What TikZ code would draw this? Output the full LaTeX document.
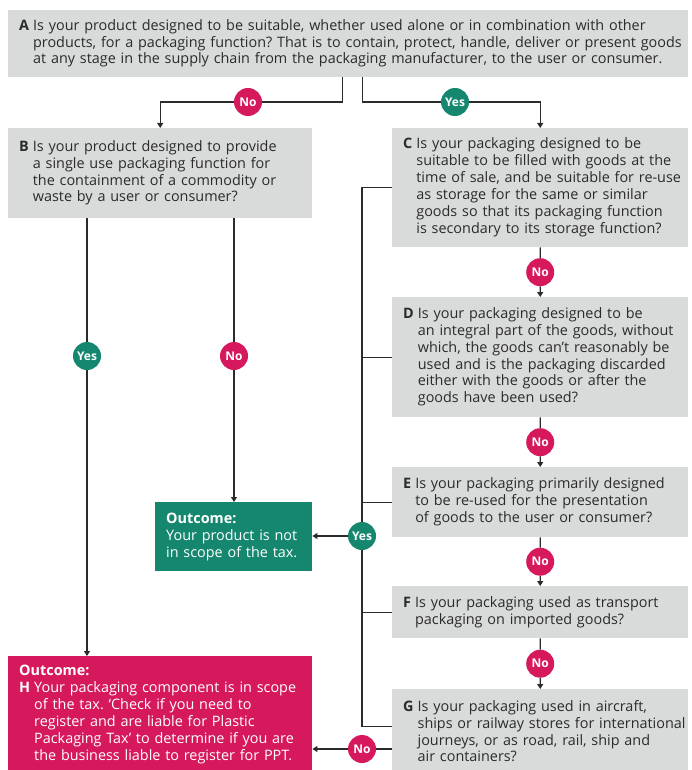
\documentclass[tikz,border=0pt]{standalone}
\usepackage{fontspec}
\setmainfont{Open Sans}
\frenchspacing
\usetikzlibrary{arrows.meta,calc}
\definecolor{boxgrey}{HTML}{D9DADA}
\definecolor{nored}{HTML}{D6195D}
\definecolor{yesgreen}{HTML}{15876F}
\definecolor{inkgrey}{HTML}{2B2B2B}
\tikzstyle{question}=[fill=boxgrey, anchor=north west, inner xsep=11pt,
                      inner ysep=0pt, align=left, text=inkgrey,
                      font=\fontsize{14.4}{16.9}\selectfont]
\tikzstyle{outcome}=[question, text=white]
\tikzstyle{badge}=[circle, minimum size=28pt, inner sep=0pt, text=white,
                   font=\fontsize{12}{13}\selectfont\bfseries]
\tikzstyle{nobadge}=[badge, fill=nored]
\tikzstyle{yesbadge}=[badge, fill=yesgreen]
\tikzstyle{edge}=[draw=inkgrey, line width=1.1pt]
\tikzstyle{arrow}=[edge, -{Triangle[length=5pt,width=6pt]}]
\newcommand{\qtext}[2]{\textbf{#1}\hspace{4pt}\begin{tabular}[t]{@{}l@{}}#2\end{tabular}}

\begin{document}
\begin{tikzpicture}[x=1pt, y=-1pt]
  \useasboundingbox (0,0) rectangle (692,770);
  \clip (0,0) rectangle (692,770);

  \node (A) at (8,10) [question, text width=658pt, minimum height=67pt]
    {\qtext{A}{Is your product designed to be suitable, whether used alone or in combination with other\\
     products, for a packaging function? That is to contain, protect, handle, deliver or present goods\\
     at any stage in the supply chain from the packaging manufacturer, to the user or consumer.}};
  \node (B) at (8,128) [question, text width=282pt, minimum height=90pt]
    {\qtext{B}{Is your product designed to provide\\a single use packaging function for\\
     the containment of a commodity or\\waste by a user or consumer?}};
  \node (C) at (392,128) [question, text width=274pt, minimum height=119pt]
    {\qtext{C}{Is your packaging designed to be\\suitable to be filled with goods at the\\
     time of sale, and be suitable for re-use\\as storage for the same or similar\\
     goods so that its packaging function\\is secondary to its storage function?}};
  \node (D) at (392,297) [question, text width=274pt, minimum height=120pt]
    {\qtext{D}{Is your packaging designed to be\\an integral part of the goods, without\\
     which, the goods can't reasonably be\\used and is the packaging discarded\\
     either with the goods or after the\\goods have been used?}};
  \node (E) at (392,467) [question, text width=274pt, minimum height=70pt]
    {\qtext{E}{Is your packaging primarily designed\\to be re-used for the presentation\\
     of goods to the user or consumer?}};
  \node (F) at (392,586) [question, text width=274pt, minimum height=52pt]
    {\qtext{F}{Is your packaging used as transport\\packaging on imported goods?}};
  \node (G) at (392,689) [question, text width=274pt, minimum height=88pt]
    {\qtext{G}{Is your packaging used in aircraft,\\ships or railway stores for international\\
     journeys, or as road, rail, ship and\\air containers?}};
  \node (out) at (155,502) [outcome, fill=yesgreen, text width=135pt, minimum height=69pt]
    {\textbf{Outcome:}\\Your product is not\\in scope of the tax.};
  \node (H) at (8,656) [outcome, fill=nored, text width=282pt, minimum height=118pt]
    {\textbf{Outcome:}\\\qtext{H}{Your packaging component is in scope\\of the tax. ‘Check if you need to\\
     register and are liable for Plastic\\Packaging Tax’ to determine if you are\\
     the business liable to register for PPT.}};

  \node (noA)  at (248,102) [nobadge] {No};
  \node (yesA) at (455,102) [yesbadge] {Yes};
  \node (yesB) at (87,356)  [yesbadge] {Yes};
  \node (noB)  at (234,356) [nobadge] {No};
  \node (yesS) at (362,536) [yesbadge] {Yes};
  \node (noG)  at (362,749) [nobadge] {No};
  \foreach \u/\v in {C/D,D/E,E/F,F/G}
    \node (no\u) at ($(\u.south)!0.5!(\v.north)$) [nobadge] {No};

  \draw [arrow] ([xshift=-6pt]A.south) |- (noA) -| (B.north);
  \draw [arrow] ([xshift=14pt]A.south) |- (yesA) -| (C.north);
  \draw [arrow] (B.south -| yesB) -- (yesB) -- (yesB |- H.north);
  \draw [arrow] (B.south -| noB) -- (noB) -- (noB |- out.north);
  \foreach \u/\v in {C/D,D/E,E/F,F/G}
    \draw [arrow] (\u.south) -- (no\u) -- (\v.north);
  \foreach \u in {C,D,E,F}
    \draw [edge] (\u.west) -| (yesS);
  \draw [edge] ([yshift=7pt]G.west) -| (yesS);
  \draw [arrow] (yesS) -- (yesS -| out.east);
  \draw [arrow] (G.west |- noG) -- (noG) -- (noG -| H.east);
\end{tikzpicture}
\end{document}
